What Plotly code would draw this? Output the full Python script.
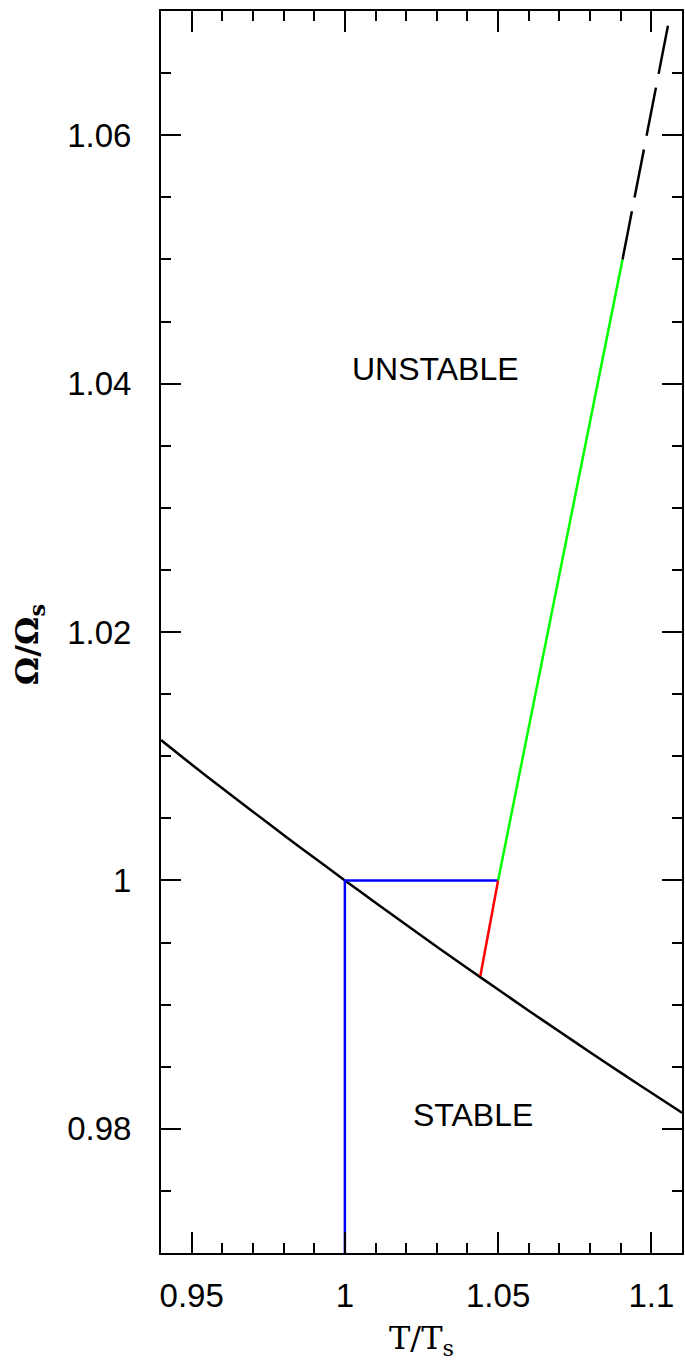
import plotly.graph_objects as go

# Black boundary curve
boundary_T = [0.94, 0.95, 0.96, 0.97, 0.98, 0.99, 1.00, 1.01, 1.02,
              1.03, 1.04, 1.05, 1.06, 1.07, 1.08, 1.09, 1.10, 1.11]
boundary_W = [1.01130, 1.00933, 1.00742, 1.00553, 1.00366, 1.00182, 1.00000,
              0.99820, 0.99642, 0.99466, 0.99293, 0.99121, 0.98951, 0.98783,
              0.98617, 0.98452, 0.98290, 0.98129]

# Blue path
blue_T = [1.00, 1.00, 1.05]
blue_W = [0.97, 1.00, 1.00]

# Red segment
red_T = [1.0442, 1.05]
red_W = [0.9923, 1.00]

# Green segment
green_T = [1.05, 1.0906]
green_W = [1.00, 1.05]

# Dashed continuation
dash_T = [1.0906, 1.1058]
dash_W = [1.05, 1.0693]

x_tickvals = [0.95, 1.0, 1.05, 1.1]
x_ticktext = ["0.95", "1", "1.05", "1.1"]
y_tickvals = [0.98, 1.0, 1.02, 1.04, 1.06]
y_ticktext = ["0.98", "1", "1.02", "1.04", "1.06"]

region_labels = ["UNSTABLE", "STABLE"]
region_T = [1.0296, 1.0417]
region_W = [1.0412, 0.9811]

fig = go.Figure()
lw = 2.5
fig.add_trace(go.Scatter(x=boundary_T, y=boundary_W, mode="lines",
                         line=dict(color="black", width=lw, shape="spline", smoothing=0.6)))
fig.add_trace(go.Scatter(x=blue_T, y=blue_W, mode="lines",
                         line=dict(color="#0000ff", width=lw)))
fig.add_trace(go.Scatter(x=red_T, y=red_W, mode="lines",
                         line=dict(color="#ff0000", width=lw)))
fig.add_trace(go.Scatter(x=green_T, y=green_W, mode="lines",
                         line=dict(color="#00ff00", width=lw)))
fig.add_trace(go.Scatter(x=dash_T, y=dash_W, mode="lines",
                         line=dict(color="black", width=lw, dash="49px,14px")))

for lab, tx, wy in zip(region_labels, region_T, region_W):
    fig.add_annotation(x=tx, y=wy, text=lab, showarrow=False,
                       font=dict(family="Liberation Sans, Arial", size=32, color="black"),
                       xanchor="center", yanchor="middle")

fig.add_annotation(xref="paper", yref="paper", x=0.5, y=-0.070,
                   text="T/T<sub>s</sub>", showarrow=False,
                   font=dict(family="DejaVu Serif", size=32, color="black"),
                   xanchor="center", yanchor="middle")
fig.add_annotation(xref="paper", yref="paper", x=-0.252, y=0.49,
                   text="<b>Ω/Ω<sub>s</sub></b>", showarrow=False, textangle=-90,
                   font=dict(family="DejaVu Serif", size=32, color="black"),
                   xanchor="center", yanchor="middle")

axis_common = dict(showgrid=False, zeroline=False, showline=True, linecolor="black",
                   linewidth=2, mirror="allticks", ticks="inside", tickcolor="black",
                   tickwidth=2,
                   tickfont=dict(family="Liberation Sans, Arial", size=33, color="black"))

fig.update_xaxes(range=[0.94, 1.11], tickvals=x_tickvals, ticktext=x_ticktext,
                 ticklen=21, ticklabelstandoff=12,
                 minor=dict(dtick=0.01, tick0=0.95, ticks="inside", ticklen=10,
                            tickwidth=2, tickcolor="black", showgrid=False),
                 **axis_common)
fig.update_yaxes(range=[0.97, 1.07], tickvals=y_tickvals, ticktext=y_ticktext,
                 ticklen=20, ticklabelstandoff=21,
                 minor=dict(dtick=0.005, tick0=0.97, ticks="inside", ticklen=10,
                            tickwidth=2, tickcolor="black", showgrid=False),
                 **axis_common)

fig.update_layout(width=685, height=1364, showlegend=False,
                  margin=dict(l=161, r=1, t=11, b=111, pad=0),
                  plot_bgcolor="white", paper_bgcolor="white")

fig.write_html("out.html",
               config={"displayModeBar": False},
               post_script="document.body.style.margin='0';"
                           "document.body.style.overflow='hidden';"
                           "document.documentElement.style.overflow='hidden';")
